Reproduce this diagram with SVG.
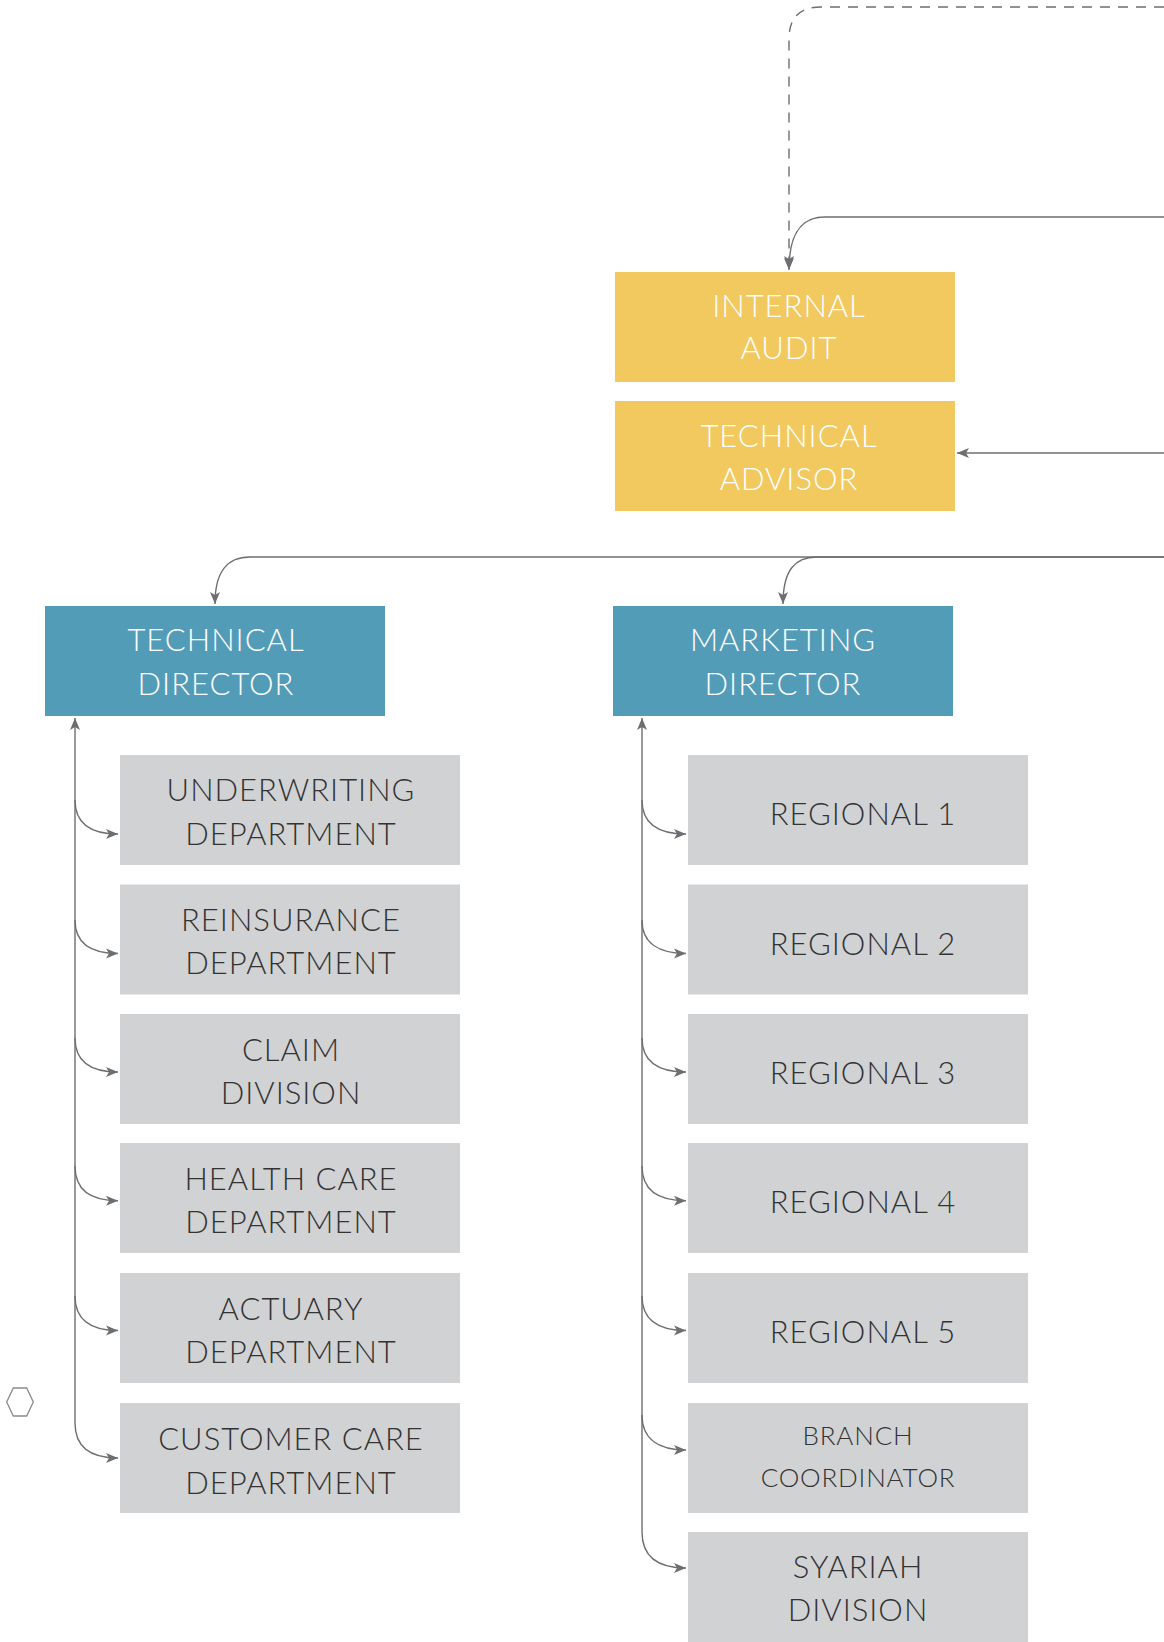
<svg xmlns="http://www.w3.org/2000/svg" width="1164" height="1642" viewBox="0 0 1164 1642">
<defs>
<marker id="arr" markerUnits="userSpaceOnUse" markerWidth="14" markerHeight="12" viewBox="0 0 14 12" refX="12" refY="6" orient="auto">
<path d="M0,1 L12,6 L0,11 L3,6 Z" fill="#6d6e71"/>
</marker>
<style>
.c{fill:none;stroke:#6d6e71;stroke-width:1.4}
.d{stroke-dasharray:10 8}
.y{fill:#f1c95f}
.b{fill:#539cb8}
.g{fill:#d1d2d4}
.t{font-family:Lato,"Open Sans","Liberation Sans",sans-serif;font-weight:300;font-size:31px;letter-spacing:1px;text-anchor:middle}
.w{fill:#ffffff}
.k{fill:#333333}
.s{font-size:26px;letter-spacing:0.8px}
</style>
</defs>
<rect width="1164" height="1642" fill="#ffffff"/>
<g id="connectors">
<path class="c d" d="M1164,7 L821,7 Q789,7 789,39 L789,268" marker-end="url(#arr)"/>
<path class="c" d="M1164,217 L825,217 C800,217 789,235 789,270" marker-end="url(#arr)"/>
<path class="c" d="M1164,453 L957,453" marker-end="url(#arr)"/>
<path class="c" d="M1164,557 L250,557 C228,557 215,570 215,604" marker-end="url(#arr)"/>
<path class="c" d="M1164,557 L817,557 C795,557 783,570 783,604" marker-end="url(#arr)"/>
<path class="c" d="M75,1423 L75,718" marker-end="url(#arr)"/>
<path class="c" d="M75,800 C75,825 92,834 118,834" marker-end="url(#arr)"/>
<path class="c" d="M75,920 C75,944 92,953.5 118,953.5" marker-end="url(#arr)"/>
<path class="c" d="M75,1038 C75,1063 92,1072 118,1072" marker-end="url(#arr)"/>
<path class="c" d="M75,1166 C75,1191 92,1200.7 118,1200.7" marker-end="url(#arr)"/>
<path class="c" d="M75,1296 C75,1321 92,1330.5 118,1330.5" marker-end="url(#arr)"/>
<path class="c" d="M75,1423 C75,1448 92,1458 118,1458" marker-end="url(#arr)"/>
<path class="c" d="M642,1532 L642,718" marker-end="url(#arr)"/>
<path class="c" d="M642,800 C642,825 660,834 686,834" marker-end="url(#arr)"/>
<path class="c" d="M642,920 C642,944 660,953.5 686,953.5" marker-end="url(#arr)"/>
<path class="c" d="M642,1038 C642,1063 660,1072 686,1072" marker-end="url(#arr)"/>
<path class="c" d="M642,1166 C642,1191 660,1200.7 686,1200.7" marker-end="url(#arr)"/>
<path class="c" d="M642,1296 C642,1321 660,1330.5 686,1330.5" marker-end="url(#arr)"/>
<path class="c" d="M642,1415 C642,1440 660,1450 686,1450" marker-end="url(#arr)"/>
<path class="c" d="M642,1532 C642,1558 660,1568 686,1568" marker-end="url(#arr)"/>
</g>
<g id="internal-audit"><rect class="y" x="615" y="272" width="340" height="110"/><text class="t w" x="789" y="317">INTERNAL</text><text class="t w" x="789" y="359">AUDIT</text></g>
<g id="technical-advisor"><rect class="y" x="615" y="401" width="340" height="110"/><text class="t w" x="789" y="447">TECHNICAL</text><text class="t w" x="789" y="490">ADVISOR</text></g>
<g id="technical-director"><rect class="b" x="45" y="606" width="340" height="110"/><text class="t w" x="216" y="651">TECHNICAL</text><text class="t w" x="216" y="695">DIRECTOR</text></g>
<g id="marketing-director"><rect class="b" x="613" y="606" width="340" height="110"/><text class="t w" x="783" y="651">MARKETING</text><text class="t w" x="783" y="695">DIRECTOR</text></g>
<g id="underwriting"><rect class="g" x="120" y="755" width="340" height="110"/><text class="t k" x="291" y="801">UNDERWRITING</text><text class="t k" x="291" y="845">DEPARTMENT</text></g>
<g id="reinsurance"><rect class="g" x="120" y="884.5" width="340" height="110"/><text class="t k" x="291" y="931">REINSURANCE</text><text class="t k" x="291" y="974">DEPARTMENT</text></g>
<g id="claim"><rect class="g" x="120" y="1014" width="340" height="110"/><text class="t k" x="291" y="1061">CLAIM</text><text class="t k" x="291" y="1104">DIVISION</text></g>
<g id="health-care"><rect class="g" x="120" y="1143" width="340" height="110"/><text class="t k" x="291" y="1190">HEALTH CARE</text><text class="t k" x="291" y="1233">DEPARTMENT</text></g>
<g id="actuary"><rect class="g" x="120" y="1273" width="340" height="110"/><text class="t k" x="291" y="1320">ACTUARY</text><text class="t k" x="291" y="1363">DEPARTMENT</text></g>
<g id="customer-care"><rect class="g" x="120" y="1403" width="340" height="110"/><text class="t k" x="291" y="1450">CUSTOMER CARE</text><text class="t k" x="291" y="1494">DEPARTMENT</text></g>
<g id="regional-1"><rect class="g" x="688" y="755" width="340" height="110"/><text class="t k" x="863" y="825">REGIONAL 1</text></g>
<g id="regional-2"><rect class="g" x="688" y="884.5" width="340" height="110"/><text class="t k" x="863" y="954.5">REGIONAL 2</text></g>
<g id="regional-3"><rect class="g" x="688" y="1014" width="340" height="110"/><text class="t k" x="863" y="1084">REGIONAL 3</text></g>
<g id="regional-4"><rect class="g" x="688" y="1143" width="340" height="110"/><text class="t k" x="863" y="1213">REGIONAL 4</text></g>
<g id="regional-5"><rect class="g" x="688" y="1273" width="340" height="110"/><text class="t k" x="863" y="1343">REGIONAL 5</text></g>
<g id="branch-coordinator"><rect class="g" x="688" y="1403" width="340" height="110"/><text class="t k s" x="858" y="1445">BRANCH</text><text class="t k s" x="858" y="1487">COORDINATOR</text></g>
<g id="syariah"><rect class="g" x="688" y="1532" width="340" height="110"/><text class="t k" x="858" y="1578">SYARIAH</text><text class="t k" x="858" y="1621">DIVISION</text></g>
<g id="hexagon"><polygon points="13.3,1388 26.7,1388 33.3,1402 26.7,1416 13.3,1416 6.7,1402" fill="#ffffff" stroke="#8a8b8e" stroke-width="1.3"/></g>
</svg>
